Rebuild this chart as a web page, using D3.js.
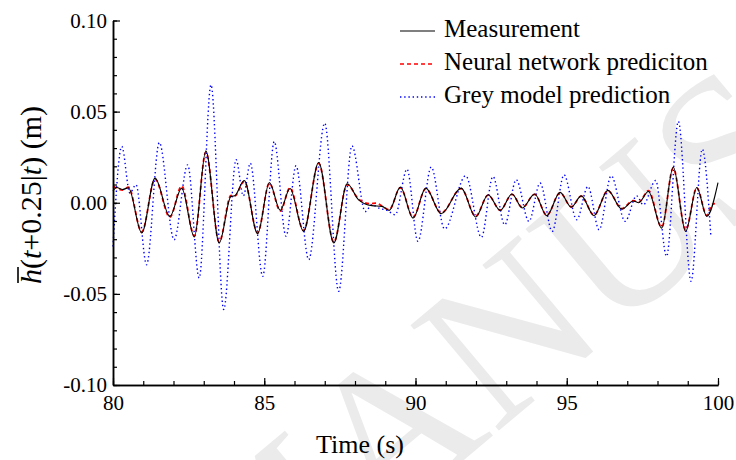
<!DOCTYPE html>
<html>
<head>
<meta charset="utf-8">
<script src="https://cdn.jsdelivr.net/npm/d3@7.9.0/dist/d3.min.js"></script>
<style>
  body { margin: 0; background: #fff; }
  svg { display: block; font-family: "Liberation Serif", "Times New Roman", serif; }
  svg text { font-family: "Liberation Serif", "Times New Roman", serif; }
</style>
</head>
<body>
<svg id="chart" width="736" height="460"></svg>
<script>
// time (s) and value (m) at the turning points of each curve
const measTime = [80.00, 80.12, 80.32, 80.51, 80.95, 81.39, 81.88, 82.27, 82.69, 83.07,
  83.51, 83.90, 84.02, 84.34, 84.78, 85.17, 85.53, 85.85, 86.30, 86.80,
  87.30, 87.74, 88.12, 88.56, 88.89, 89.13, 89.50, 89.92, 90.34, 90.85,
  91.51, 91.99, 92.40, 92.80, 93.19, 93.53, 93.94, 94.34, 94.78, 95.15,
  95.48, 95.90, 96.36, 96.82, 97.20, 97.38, 97.70, 98.14, 98.52, 98.93,
  99.30, 99.63, 100.00];
const measValue = [0.0065, 0.0084, 0.0073, 0.0082, -0.0166, 0.0135, -0.0075, 0.0080, -0.0188, 0.0285,
  -0.0221, 0.0035, 0.0038, 0.0122, -0.0170, 0.0111, -0.0042, 0.0078, -0.0157, 0.0221,
  -0.0221, 0.0104, 0.0016, -0.0016, -0.0020, -0.0042, 0.0086, -0.0084, 0.0080, -0.0060,
  0.0080, -0.0078, 0.0044, -0.0042, 0.0048, -0.0029, 0.0048, -0.0071, 0.0057, -0.0024,
  0.0038, -0.0071, 0.0068, -0.0035, 0.0010, 0.0000, 0.0062, -0.0139, 0.0196, -0.0157,
  0.0084, -0.0075, 0.0110];

const nnTime = [80.00, 80.12, 80.32, 80.51, 80.95, 81.39, 81.88, 82.27, 82.69, 83.07,
  83.51, 83.90, 84.02, 84.34, 84.78, 85.17, 85.53, 85.85, 86.30, 86.80,
  87.30, 87.74, 88.12, 88.50, 88.70, 88.89, 89.13, 89.50, 89.92, 90.34,
  90.85, 91.51, 91.99, 92.40, 92.80, 93.19, 93.53, 93.94, 94.34, 94.78,
  95.15, 95.48, 95.90, 96.36, 96.82, 97.20, 97.38, 97.70, 98.14, 98.52,
  98.93, 99.30, 99.63, 99.80, 99.90];
const nnValue = [0.0090, 0.0080, 0.0070, 0.0085, -0.0160, 0.0130, -0.0080, 0.0092, -0.0182, 0.0278,
  -0.0215, 0.0040, 0.0036, 0.0118, -0.0165, 0.0108, -0.0046, 0.0082, -0.0152, 0.0216,
  -0.0216, 0.0100, 0.0020, -0.0005, -0.0002, -0.0018, -0.0038, 0.0082, -0.0080, 0.0077,
  -0.0056, 0.0078, -0.0074, 0.0042, -0.0040, 0.0046, -0.0026, 0.0046, -0.0068, 0.0055,
  -0.0022, 0.0036, -0.0068, 0.0066, -0.0032, 0.0012, 0.0003, 0.0066, -0.0134, 0.0190,
  -0.0150, 0.0082, -0.0070, -0.0010, -0.0005];

const greyTime = [80.00, 80.29, 80.56, 80.76, 81.11, 81.53, 82.02, 82.47, 82.85, 83.24,
  83.66, 84.07, 84.31, 84.54, 84.95, 85.33, 85.72, 86.05, 86.47, 87.00,
  87.46, 87.90, 88.34, 88.56, 88.80, 89.06, 89.33, 89.72, 90.08, 90.52,
  90.96, 91.66, 92.18, 92.56, 92.95, 93.33, 93.75, 94.12, 94.52, 94.91,
  95.33, 95.70, 96.07, 96.47, 96.93, 97.31, 97.53, 97.94, 98.30, 98.69,
  99.11, 99.48, 99.76];
const greyValue = [-0.0240, 0.0309, 0.0053, 0.0099, -0.0340, 0.0330, -0.0203, 0.0208, -0.0413, 0.0647,
  -0.0586, 0.0236, 0.0038, 0.0217, -0.0404, 0.0336, -0.0184, 0.0203, -0.0312, 0.0437,
  -0.0486, 0.0312, -0.0048, -0.0011, -0.0030, -0.0042, -0.0066, 0.0184, -0.0212, 0.0196,
  -0.0144, 0.0148, -0.0190, 0.0144, -0.0121, 0.0126, -0.0102, 0.0108, -0.0157, 0.0153,
  -0.0093, 0.0089, -0.0148, 0.0148, -0.0102, 0.0038, -0.0011, 0.0122, -0.0294, 0.0446,
  -0.0431, 0.0294, -0.0175];

const seriesNames = ['Measurement', 'Neural network prediciton', 'Grey model prediction'];

const xTicks = [80, 85, 90, 95, 100];
const xMinor = d3.range(80, 101, 1);
const yTicks = [-0.10, -0.05, 0.00, 0.05, 0.10];
const yTickLabels = ['-0.10', '-0.05', '0.00', '0.05', '0.10'];
const yMinor = d3.range(-10, 11, 1).map(d => d / 100);

const svg = d3.select('#chart');

const x = d3.scaleLinear().domain([80, 100]).range([113, 718]);
const y = d3.scaleLinear().domain([-0.10, 0.10]).range([385, 20.5]);

// faint watermark behind everything
const wm = svg.append('g')
  .attr('transform', 'translate(235,652) rotate(-40)')
  .attr('fill', '#ebebeb')
  .style('font-size', '210px');
wm.append('text').attr('text-anchor', 'start').text('MANUSCRIPT');
wm.append('text').attr('text-anchor', 'end').text('ACCEPTED ');

const line = d3.line()
  .x(d => x(d[0]))
  .y(d => y(d[1]))
  .curve(d3.curveMonotoneX);

const grey = greyTime.map((t, i) => [t, greyValue[i]]);
const nn = nnTime.map((t, i) => [t, nnValue[i]]);
const meas = measTime.map((t, i) => [t, measValue[i]]);

svg.append('path').datum(grey)
  .attr('d', line)
  .attr('fill', 'none')
  .attr('stroke', '#0000ff')
  .attr('stroke-width', 1.4)
  .attr('stroke-dasharray', '1.4,2.8');

svg.append('path').datum(nn)
  .attr('d', line)
  .attr('fill', 'none')
  .attr('stroke', '#ff0000')
  .attr('stroke-width', 1.8)
  .attr('stroke-dasharray', '4,3');

svg.append('path').datum(meas)
  .attr('d', line)
  .attr('fill', 'none')
  .attr('stroke', '#000')
  .attr('stroke-width', 1.1);

// axes, ticks point inwards
function styleAxis(g) {
  g.attr('font-family', null).attr('font-size', null);
  g.select('.domain').attr('stroke-width', 1.5);
  g.selectAll('.tick line').attr('stroke-width', 1.2);
  g.selectAll('text')
    .style('font-family', '"Liberation Serif", "Times New Roman", serif')
    .style('font-size', '21px')
    .attr('fill', '#000');
}

svg.append('g')
  .attr('transform', 'translate(0,385)')
  .call(d3.axisBottom(x).tickValues(xMinor).tickSize(-4).tickSizeOuter(0).tickFormat(''))
  .call(styleAxis);
svg.append('g')
  .attr('transform', 'translate(0,385)')
  .call(d3.axisBottom(x).tickValues(xTicks).tickSize(-7).tickSizeOuter(0).tickPadding(10).tickFormat(d3.format('d')))
  .call(styleAxis);

svg.append('g')
  .attr('transform', 'translate(113,0)')
  .call(d3.axisLeft(y).tickValues(yMinor).tickSize(-4).tickSizeOuter(0).tickFormat(''))
  .call(styleAxis);
svg.append('g')
  .attr('transform', 'translate(113,0)')
  .call(d3.axisLeft(y).tickValues(yTicks).tickSize(-7).tickSizeOuter(0).tickPadding(6)
    .tickFormat((d, i) => yTickLabels[i]))
  .call(styleAxis);

// axis titles
svg.append('text')
  .attr('x', 360).attr('y', 453)
  .attr('text-anchor', 'middle')
  .style('font-size', '26px')
  .text('Time (s)');

const yt = svg.append('g').attr('transform', 'translate(41,195) rotate(-90)');
const ytText = yt.append('text')
  .attr('text-anchor', 'middle')
  .style('font-size', '30px');
ytText.append('tspan').style('font-style', 'italic').text('h');
ytText.append('tspan').text('(');
ytText.append('tspan').style('font-style', 'italic').text('t');
ytText.append('tspan').text('+0.25|');
ytText.append('tspan').style('font-style', 'italic').text('t');
ytText.append('tspan').text(') (m)');
// bar over the h
const hs = ytText.node().getStartPositionOfChar(0);
const he = ytText.node().getEndPositionOfChar(0);
yt.append('line')
  .attr('x1', hs.x + 1).attr('x2', he.x + 2)
  .attr('y1', -23).attr('y2', -23)
  .attr('stroke', '#000').attr('stroke-width', 1.6);

// legend
const legendY = [37, 70, 103];
const legendStyle = [
  { stroke: '#000', dash: null, width: 1.2 },
  { stroke: '#ff0000', dash: '4,3', width: 1.3 },
  { stroke: '#0000ff', dash: '1.4,2.8', width: 1.3 }
];
const legend = svg.append('g');
seriesNames.forEach((name, i) => {
  legend.append('line')
    .attr('x1', 400).attr('x2', 435)
    .attr('y1', legendY[i] - 6).attr('y2', legendY[i] - 6)
    .attr('stroke', legendStyle[i].stroke)
    .attr('stroke-width', legendStyle[i].width)
    .attr('stroke-dasharray', legendStyle[i].dash);
  legend.append('text')
    .attr('x', 444).attr('y', legendY[i])
    .style('font-size', '25px')
    .text(name);
});
</script>
</body>
</html>
